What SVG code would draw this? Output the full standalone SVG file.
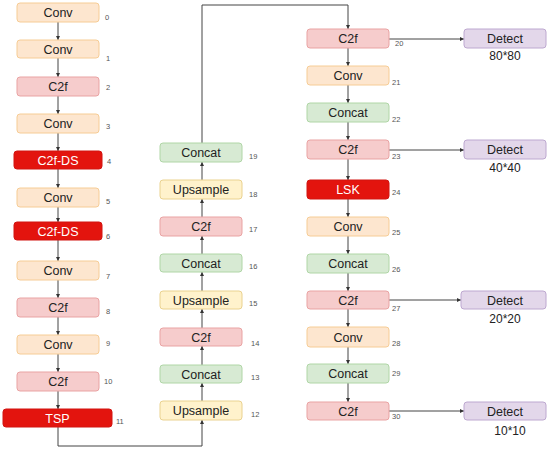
<svg xmlns="http://www.w3.org/2000/svg" width="550" height="451" viewBox="0 0 550 451">
<style>
text{font-family:"Liberation Sans",Arial,sans-serif;}
.t{font-size:12.5px;text-anchor:middle;fill:#222;}
.w{font-size:12.5px;text-anchor:middle;fill:#fff;}
.n{font-size:7.5px;fill:#555;}
.s{font-size:12px;text-anchor:middle;fill:#222;}
.conv{fill:#fde6cf;stroke:#f6cc95;stroke-width:1;}
.c2f{fill:#f6cccc;stroke:#e9a3a3;stroke-width:1;}
.ds{fill:#e3140e;stroke:#d21410;stroke-width:1;}
.cat{fill:#d7ead3;stroke:#b0d6a6;stroke-width:1;}
.up{fill:#fff2cc;stroke:#ead28f;stroke-width:1;}
.det{fill:#e3d7ea;stroke:#bda8d0;stroke-width:1;}
.l{fill:none;stroke:#444;stroke-width:1;}
</style>
<defs>
<marker id="a" viewBox="0 0 6 6" refX="6" refY="3" markerWidth="4" markerHeight="4" orient="auto"><path d="M0,0L6,3L0,6z" fill="#333"/></marker>
</defs>
<g id="connectors">
<path class="l" marker-end="url(#a)" d="M58,22V40"/>
<path class="l" marker-end="url(#a)" d="M58,58V77"/>
<path class="l" marker-end="url(#a)" d="M58,96V114"/>
<path class="l" marker-end="url(#a)" d="M58,133V151"/>
<path class="l" marker-end="url(#a)" d="M58,169V188"/>
<path class="l" marker-end="url(#a)" d="M58,207V222"/>
<path class="l" marker-end="url(#a)" d="M58,240V261"/>
<path class="l" marker-end="url(#a)" d="M58,280V298"/>
<path class="l" marker-end="url(#a)" d="M58,317V335"/>
<path class="l" marker-end="url(#a)" d="M58,354V372"/>
<path class="l" marker-end="url(#a)" d="M58,391V409"/>
<path class="l" marker-end="url(#a)" d="M58,427V446H202V420"/>
<path class="l" marker-end="url(#a)" d="M202,401V383"/>
<path class="l" marker-end="url(#a)" d="M202,365V346"/>
<path class="l" marker-end="url(#a)" d="M202,328V309"/>
<path class="l" marker-end="url(#a)" d="M202,291V272"/>
<path class="l" marker-end="url(#a)" d="M202,254V236"/>
<path class="l" marker-end="url(#a)" d="M202,217V199"/>
<path class="l" marker-end="url(#a)" d="M202,180V162"/>
<path class="l" marker-end="url(#a)" d="M202,143V5H348V29"/>
<path class="l" marker-end="url(#a)" d="M348,48V66"/>
<path class="l" marker-end="url(#a)" d="M348,85V103"/>
<path class="l" marker-end="url(#a)" d="M348,122V140"/>
<path class="l" marker-end="url(#a)" d="M348,159V180"/>
<path class="l" marker-end="url(#a)" d="M348,199V217"/>
<path class="l" marker-end="url(#a)" d="M348,236V254"/>
<path class="l" marker-end="url(#a)" d="M348,273V291"/>
<path class="l" marker-end="url(#a)" d="M348,309V327"/>
<path class="l" marker-end="url(#a)" d="M348,347V364"/>
<path class="l" marker-end="url(#a)" d="M348,383V402"/>
<path class="l" marker-end="url(#a)" d="M389,39H464"/>
<path class="l" marker-end="url(#a)" d="M389,150H464"/>
<path class="l" marker-end="url(#a)" d="M389,300H461"/>
<path class="l" marker-end="url(#a)" d="M389,411H464"/>
</g>
<g id="n0"><rect class="conv" x="17" y="3" width="82" height="19" rx="3"/><text class="t" x="58" y="17">Conv</text><text class="n" x="105" y="20">0</text></g>
<g id="n1"><rect class="conv" x="17" y="40" width="82" height="18" rx="3"/><text class="t" x="58" y="53.5">Conv</text><text class="n" x="106" y="61">1</text></g>
<g id="n2"><rect class="c2f" x="17" y="77" width="82" height="19" rx="3"/><text class="t" x="58" y="91">C2f</text><text class="n" x="106" y="90">2</text></g>
<g id="n3"><rect class="conv" x="17" y="114" width="82" height="19" rx="3"/><text class="t" x="58" y="128">Conv</text><text class="n" x="106" y="129">3</text></g>
<g id="n4"><rect class="ds" x="14" y="151" width="88" height="18" rx="3"/><text class="w" x="58" y="164.5">C2f-DS</text><text class="n" x="107" y="164">4</text></g>
<g id="n5"><rect class="conv" x="17" y="188" width="82" height="19" rx="3"/><text class="t" x="58" y="202">Conv</text><text class="n" x="106" y="204">5</text></g>
<g id="n6"><rect class="ds" x="14" y="222" width="88" height="18" rx="3"/><text class="w" x="58" y="235.5">C2f-DS</text><text class="n" x="106" y="239">6</text></g>
<g id="n7"><rect class="conv" x="17" y="261" width="82" height="19" rx="3"/><text class="t" x="58" y="275">Conv</text><text class="n" x="106" y="279">7</text></g>
<g id="n8"><rect class="c2f" x="17" y="298" width="82" height="19" rx="3"/><text class="t" x="58" y="312">C2f</text><text class="n" x="106" y="314">8</text></g>
<g id="n9"><rect class="conv" x="17" y="335" width="82" height="19" rx="3"/><text class="t" x="58" y="349">Conv</text><text class="n" x="106" y="346">9</text></g>
<g id="n10"><rect class="c2f" x="17" y="372" width="82" height="19" rx="3"/><text class="t" x="58" y="386">C2f</text><text class="n" x="104" y="384">10</text></g>
<g id="n11"><rect class="ds" x="3" y="409" width="109" height="18" rx="3"/><text class="w" x="57.5" y="422.5">TSP</text><text class="n" x="116" y="424">11</text></g>
<g id="n12"><rect class="up" x="160" y="401" width="82" height="19" rx="3"/><text class="t" x="201" y="415">Upsample</text><text class="n" x="251" y="417">12</text></g>
<g id="n13"><rect class="cat" x="160" y="365" width="82" height="18" rx="3"/><text class="t" x="201" y="378.5">Concat</text><text class="n" x="251" y="380">13</text></g>
<g id="n14"><rect class="c2f" x="160" y="328" width="82" height="18" rx="3"/><text class="t" x="201" y="341.5">C2f</text><text class="n" x="251" y="346">14</text></g>
<g id="n15"><rect class="up" x="160" y="291" width="82" height="18" rx="3"/><text class="t" x="201" y="304.5">Upsample</text><text class="n" x="249" y="306">15</text></g>
<g id="n16"><rect class="cat" x="160" y="254" width="82" height="18" rx="3"/><text class="t" x="201" y="267.5">Concat</text><text class="n" x="249" y="269">16</text></g>
<g id="n17"><rect class="c2f" x="160" y="217" width="82" height="19" rx="3"/><text class="t" x="201" y="231">C2f</text><text class="n" x="249" y="232">17</text></g>
<g id="n18"><rect class="up" x="160" y="180" width="82" height="19" rx="3"/><text class="t" x="201" y="194">Upsample</text><text class="n" x="249" y="197">18</text></g>
<g id="n19"><rect class="cat" x="160" y="143" width="82" height="19" rx="3"/><text class="t" x="201" y="157">Concat</text><text class="n" x="249" y="159">19</text></g>
<g id="n20"><rect class="c2f" x="307" y="29" width="82" height="19" rx="3"/><text class="t" x="348" y="43">C2f</text><text class="n" x="395" y="46">20</text></g>
<g id="n21"><rect class="conv" x="307" y="66" width="82" height="19" rx="3"/><text class="t" x="348" y="80">Conv</text><text class="n" x="392" y="85">21</text></g>
<g id="n22"><rect class="cat" x="307" y="103" width="82" height="19" rx="3"/><text class="t" x="348" y="117">Concat</text><text class="n" x="392" y="122">22</text></g>
<g id="n23"><rect class="c2f" x="307" y="140" width="82" height="19" rx="3"/><text class="t" x="348" y="154">C2f</text><text class="n" x="392" y="159">23</text></g>
<g id="n24"><rect class="ds" x="307" y="180" width="82" height="19" rx="3"/><text class="w" x="348" y="194">LSK</text><text class="n" x="392" y="195">24</text></g>
<g id="n25"><rect class="conv" x="307" y="217" width="82" height="19" rx="3"/><text class="t" x="348" y="231">Conv</text><text class="n" x="392" y="235">25</text></g>
<g id="n26"><rect class="cat" x="307" y="254" width="82" height="19" rx="3"/><text class="t" x="348" y="268">Concat</text><text class="n" x="392" y="272">26</text></g>
<g id="n27"><rect class="c2f" x="307" y="291" width="82" height="18" rx="3"/><text class="t" x="348" y="304.5">C2f</text><text class="n" x="392" y="311">27</text></g>
<g id="n28"><rect class="conv" x="307" y="327" width="82" height="20" rx="3"/><text class="t" x="348" y="341.5">Conv</text><text class="n" x="392" y="346">28</text></g>
<g id="n29"><rect class="cat" x="307" y="364" width="82" height="19" rx="3"/><text class="t" x="348" y="378">Concat</text><text class="n" x="392" y="376">29</text></g>
<g id="n30"><rect class="c2f" x="307" y="402" width="82" height="18" rx="3"/><text class="t" x="348" y="415.5">C2f</text><text class="n" x="392" y="419">30</text></g>
<g id="d20"><rect class="det" x="464" y="29" width="82" height="19" rx="3"/><text class="t" x="505" y="43">Detect</text><text class="s" x="505" y="60">80*80</text></g>
<g id="d23"><rect class="det" x="464" y="140" width="82" height="19" rx="3"/><text class="t" x="505" y="154">Detect</text><text class="s" x="505" y="172">40*40</text></g>
<g id="d27"><rect class="det" x="461" y="291" width="85" height="18" rx="3"/><text class="t" x="505" y="304.5">Detect</text><text class="s" x="505" y="323">20*20</text></g>
<g id="d30"><rect class="det" x="464" y="402" width="82" height="18" rx="3"/><text class="t" x="505" y="415.5">Detect</text><text class="s" x="510" y="435">10*10</text></g>
</svg>
